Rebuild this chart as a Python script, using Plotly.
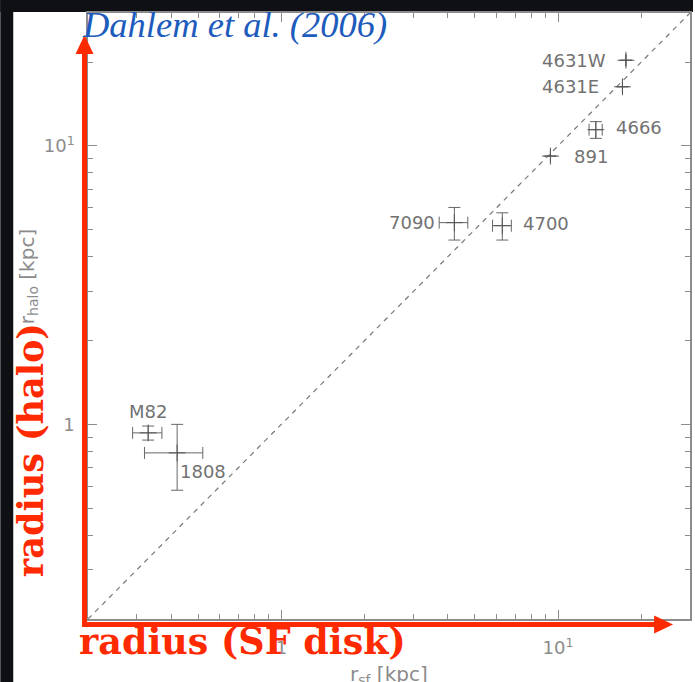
import numpy as np
import plotly.graph_objects as go

# ---------------- data ----------------
names = ["4631W", "4631E", "4666", "891", "7090", "4700", "M82", "1808"]
r_sf = [17.6, 17.1, 13.7, 9.39, 4.22, 6.29, 0.33, 0.42]
r_halo = [20.3, 16.3, 11.43, 9.19, 5.30, 5.17, 0.932, 0.79]
err_sf = [0, 0, 0.75, 0, 0.50, 0.49, 0.04, 0.10]
err_halo = [0, 0, 0.79, 0, 0.71, 0.58, 0.054, 0.21]

# label placement (anchor, x offset px, y offset px)
label_anchor = ["right", "right", "left", "left", "right", "left", "center", "left"]
label_dx = [-18, -21, 18, 22, -17, 19, 0, 1]
label_dy = [0, 0, 2, 0, 0, 2, 21, -19]

axis_range = [0.2, 30]
major_ticks = [1, 10]
major_labels = ["1", "10<sup>1</sup>"]
minor_ticks = [0.2, 0.3, 0.4, 0.5, 0.6, 0.7, 0.8, 0.9, 2, 3, 4, 5, 6, 7, 8, 9, 20, 30]

x_title = "r<sub>sf</sub> [kpc]"
y_title = "r<sub>halo</sub> [kpc]"
credit = "Dahlem et al. (2006)"
red_x_text = "radius (SF disk)"
red_y_text = "radius (halo)"

# ---------------- geometry ----------------
W, H = 695, 682
L, R, T, B = 88, 3, 13, 63
PW, PH = W - L - R, H - T - B


def px(xp):
    return (xp - L) / PW


def py(yp):
    return (H - B - yp) / PH


GRAY = "#8c8c8c"
RED = "#ff2a00"
TXT = "#727272"

fig = go.Figure()

# one-to-one line
fig.add_trace(go.Scatter(
    x=axis_range, y=axis_range, mode="lines",
    line=dict(color="#777777", width=1.2, dash="5px,5px"),
    hoverinfo="skip", showlegend=False))

# data points with error bars
fig.add_trace(go.Scatter(
    x=r_sf, y=r_halo, mode="markers",
    marker=dict(symbol="cross-thin", size=12, color="#555555",
                line=dict(color="#555555", width=1)),
    error_x=dict(type="data", array=err_sf, color="#666666", thickness=1, width=6),
    error_y=dict(type="data", array=err_halo, color="#666666", thickness=1, width=6),
    showlegend=False))

annotations = []
for n, xv, yv, a, dx, dy in zip(names, r_sf, r_halo, label_anchor, label_dx, label_dy):
    annotations.append(dict(
        x=np.log10(xv), y=np.log10(yv), xref="x", yref="y", text=n,
        showarrow=False, xanchor=a, yanchor="middle", xshift=dx, yshift=dy,
        font=dict(family="DejaVu Sans", size=18, color=TXT)))

# axis titles
annotations.append(dict(x=0.5, y=py(675), xref="paper", yref="paper", text=x_title,
                        showarrow=False, xanchor="center", yanchor="middle",
                        font=dict(family="DejaVu Sans", size=20, color=GRAY)))
annotations.append(dict(x=px(28), y=py(277), xref="paper", yref="paper", text=y_title,
                        showarrow=False, xanchor="center", yanchor="middle", textangle=-90,
                        font=dict(family="DejaVu Sans", size=20, color=GRAY)))

# credit
annotations.append(dict(x=px(80), y=py(24), xref="paper", yref="paper",
                        text="<i>" + credit + "</i>", showarrow=False,
                        xanchor="left", yanchor="middle",
                        font=dict(family="Liberation Serif", size=36.5, color="#1d5bbd")))

# red annotation texts
annotations.append(dict(x=px(77), y=py(641), xref="paper", yref="paper",
                        text="<b>" + red_x_text + "</b>", showarrow=False,
                        xanchor="left", yanchor="middle",
                        font=dict(family="DejaVu Serif", size=36.5, color=RED)))
annotations.append(dict(x=px(30), y=py(450), xref="paper", yref="paper",
                        text="<b>" + red_y_text + "</b>", showarrow=False,
                        xanchor="center", yanchor="middle", textangle=-90,
                        font=dict(family="DejaVu Serif", size=35, color=RED)))

shapes = [
    # dark slide border
    dict(type="rect", xref="paper", yref="paper", x0=px(0), x1=px(13), y0=py(H), y1=py(0),
         fillcolor="#0e1013", line=dict(width=0), layer="below"),
    dict(type="rect", xref="paper", yref="paper", x0=px(0), x1=px(W), y0=py(12), y1=py(0),
         fillcolor="#0e1013", line=dict(width=0), layer="below"),
    # red arrows
    dict(type="rect", xref="paper", yref="paper", x0=px(82), x1=px(87), y0=py(627), y1=py(52),
         fillcolor=RED, line=dict(width=0), layer="above"),
    dict(type="rect", xref="paper", yref="paper", x0=px(82), x1=px(657), y0=py(627), y1=py(622),
         fillcolor=RED, line=dict(width=0), layer="above"),
    dict(type="path", xref="paper", yref="paper",
         path=f"M {px(84.5)},{py(35)} L {px(75.5)},{py(54)} L {px(93.5)},{py(54)} Z",
         fillcolor=RED, line=dict(width=0), layer="above"),
    dict(type="path", xref="paper", yref="paper",
         path=f"M {px(675)},{py(624.5)} L {px(656)},{py(615.5)} L {px(656)},{py(633.5)} Z",
         fillcolor=RED, line=dict(width=0), layer="above"),
]

axis_common = dict(
    type="log", range=[np.log10(axis_range[0]), np.log10(axis_range[1])],
    showline=True, linecolor=GRAY, linewidth=1.5, mirror="allticks",
    ticks="inside", ticklen=9, tickwidth=1, tickcolor=GRAY,
    tickmode="array", tickvals=major_ticks, ticktext=major_labels,
    tickfont=dict(family="DejaVu Sans", size=18, color=GRAY),
    showgrid=False, zeroline=False,
    minor=dict(tickmode="array", tickvals=minor_ticks, ticks="inside",
               ticklen=5, tickwidth=1, tickcolor=GRAY, showgrid=False),
)

fig.update_layout(
    width=W, height=H, autosize=False,
    margin=dict(l=L, r=R, t=T, b=B, pad=0),
    paper_bgcolor="white", plot_bgcolor="white",
    xaxis=dict(axis_common, ticklabelstandoff=12),
    yaxis=dict(axis_common, ticklabelstandoff=8),
    annotations=annotations, shapes=shapes,
    showlegend=False,
)

fig.write_html(
    "out.html",
    config={"displayModeBar": False},
    post_script="document.body.style.margin='0';document.body.style.overflow='hidden';",
)
